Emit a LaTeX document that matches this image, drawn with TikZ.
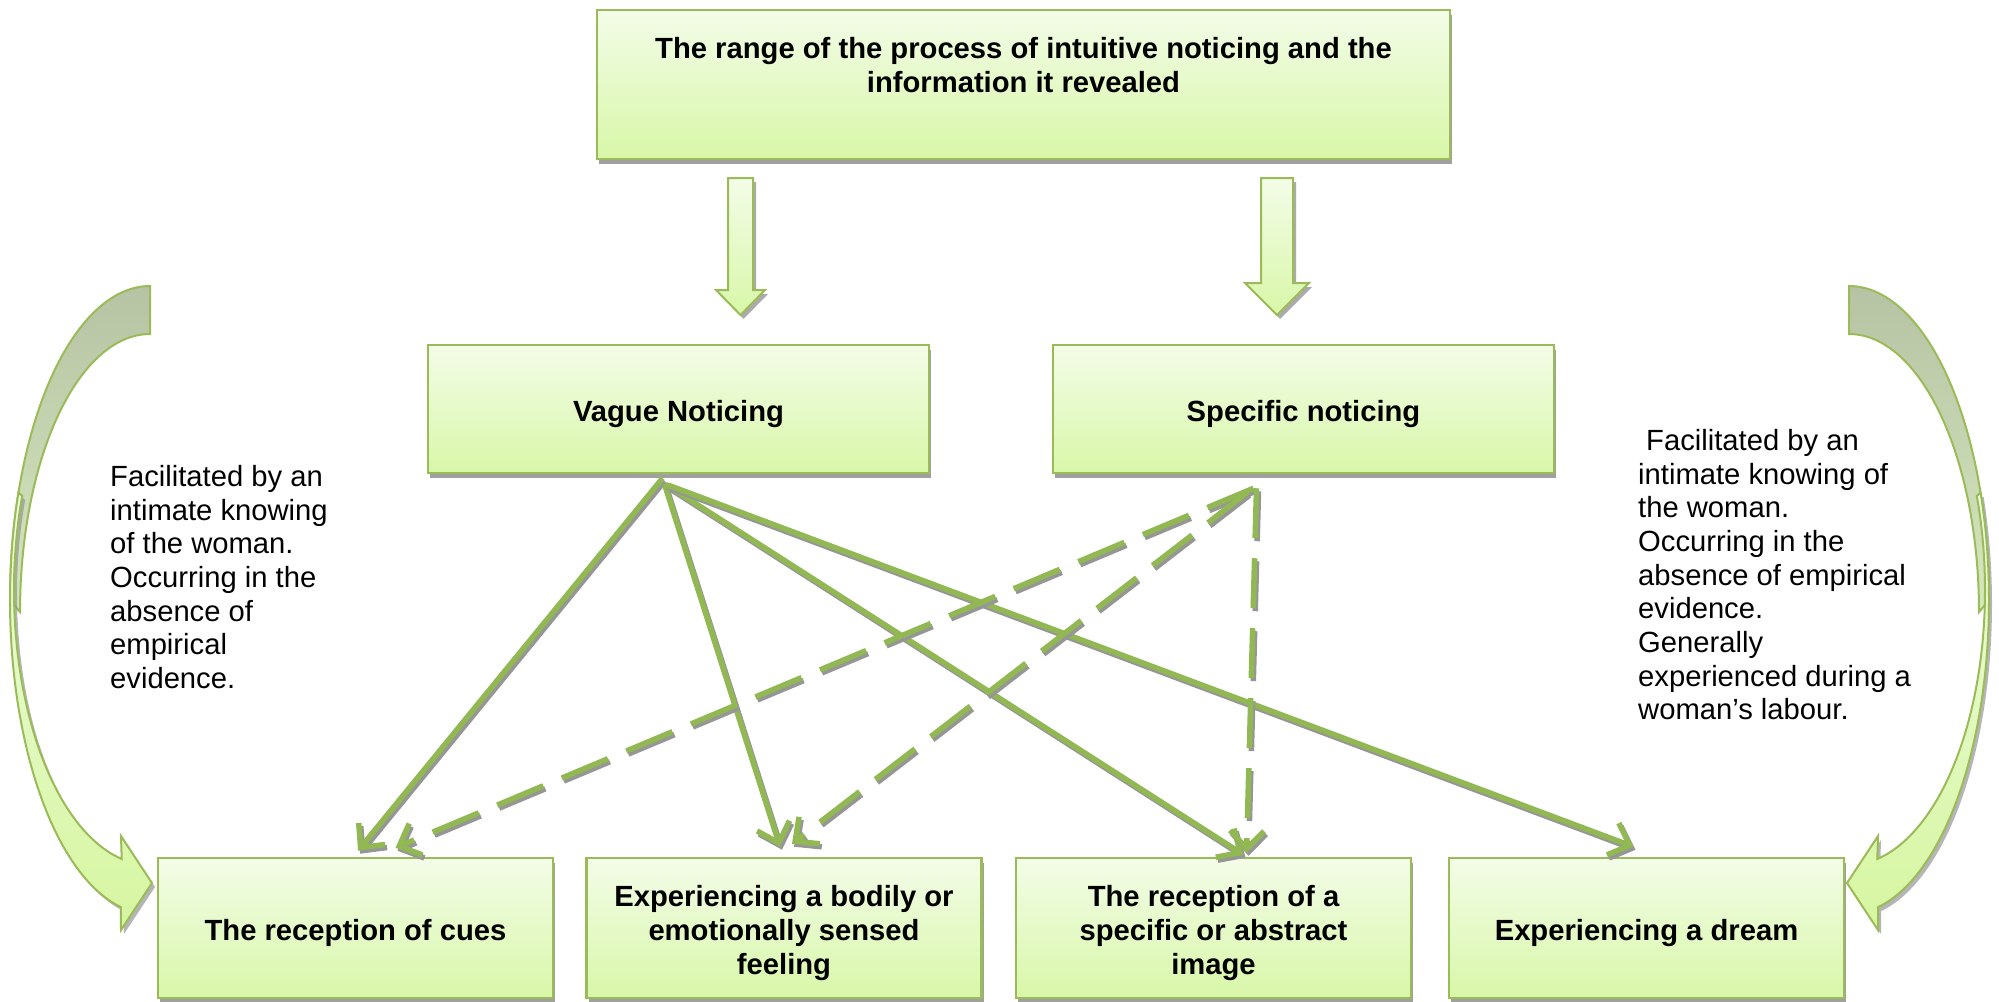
\documentclass[tikz,border=0pt]{standalone}
\usepackage{fontspec}
\setmainfont{Liberation Sans}
\usetikzlibrary{arrows.meta,shadows,calc}

\definecolor{boxtop}{RGB}{243,252,232}
\definecolor{boxbot}{RGB}{216,247,168}
\definecolor{edgeg}{RGB}{155,187,89}
\definecolor{lineg}{RGB}{146,184,84}
\definecolor{backtop}{RGB}{182,195,164}
\definecolor{backbot}{RGB}{214,232,190}
\definecolor{fronttop}{RGB}{238,251,224}
\definecolor{frontbot}{RGB}{214,246,160}
\definecolor{shadowgrey}{RGB}{150,150,150}

\newcommand\diagramsize{\fontsize{29.2pt}{33.7pt}\selectfont}
% a taller first line sets the text a little lower in its box
\newcommand\lowstrut{\rule{0pt}{31pt}}

\tikzset{
  greenbox/.style={draw=edgeg, line width=2.5pt, top color=boxtop, bottom color=boxbot,
    minimum width=395pt, minimum height=140pt, inner sep=0pt, align=center,
    font=\diagramsize\bfseries,
    drop shadow={shadow xshift=2pt, shadow yshift=-5pt, fill=shadowgrey, opacity=0.9}},
  sidetext/.style={align=left, inner sep=0pt, anchor=north west, font=\diagramsize},
  blockarrow/.style={draw=edgeg, line width=2pt, top color=boxtop, bottom color=boxbot,
    drop shadow={shadow xshift=3pt, shadow yshift=-4pt, fill=shadowgrey, opacity=0.8}},
  backpart/.style={draw=edgeg, line width=2pt, top color=backtop, bottom color=backbot},
  frontpart/.style={draw=edgeg, line width=2pt, top color=fronttop, bottom color=frontbot,
    drop shadow={shadow xshift=3pt, shadow yshift=-4pt, fill=shadowgrey, opacity=0.7}},
  barbtip/.style={-{Straight Barb[length=18pt, width=34pt]}},
  link/.style={draw=lineg, line width=5.5pt, barbtip,
    preaction={draw=shadowgrey, line width=5.5pt, barbtip,
      transform canvas={shift={(2pt,-3pt)}}}},
  dlink/.style={draw=lineg, line width=5.5pt, barbtip, dash pattern=on 50pt off 20pt,
    preaction={draw=shadowgrey, line width=5.5pt, barbtip, dash pattern=on 50pt off 20pt,
      transform canvas={shift={(2pt,-3pt)}}}},
}

% curved side arrow: darker back crescent and lighter front band with head
\newcommand\sidearrow{%
  \path[backpart]
    plot[domain=90:180, samples=60] ({150+140*cos(\x)}, {600-314*sin(\x)})
    -- plot[domain=180:90, samples=60] ({150+130*cos(\x)}, {612-278*sin(\x)})
    -- cycle;
  \path[frontpart]
    plot[domain=160:258, samples=60] ({150+136*cos(\x)}, {590-275*sin(\x)})
    -- (121,836) -- (152,883) -- (121,930)
    -- plot[domain=258:160, samples=60] ({150+140*cos(\x)}, {600-314*sin(\x)})
    -- cycle;
}

\begin{document}
\begin{tikzpicture}[x=1pt, y=-1pt]
\useasboundingbox (0,0) rectangle (1999,1001);

% side arrows
\sidearrow
\begin{scope}[xshift=1999pt, xscale=-1]
  \sidearrow
\end{scope}

% side notes
\node[sidetext] (lefttext) at (110,465)
  {Facilitated by an\\intimate knowing\\of the woman.\\Occurring in the\\absence of\\empirical\\evidence.};
\node[sidetext] (righttext) at (1638,429)
  {\hspace*{8pt}Facilitated by an\\intimate knowing of\\the woman.\\Occurring in the\\absence of empirical\\evidence.\\Generally\\experienced during a\\woman’s labour.};

% title box (an empty third line keeps the two text lines in its upper part)
\node[greenbox, minimum width=853pt, minimum height=149pt]
  (top) at (1023.5,84.5)
  {The range of the process of intuitive noticing and the\\information it revealed\\[6pt]\mbox{}};

% block arrows below the title box
\path[blockarrow] (728,178) -- (753,178) -- (753,290) -- (765,290) -- (740.5,315)
  -- (716,290) -- (728,290) -- cycle;
\path[blockarrow] (1261,178) -- (1293,178) -- (1293,283) -- (1309,283) -- (1277,315)
  -- (1245,283) -- (1261,283) -- cycle;

% two kinds of noticing
\node[greenbox, minimum width=501pt, minimum height=128pt] (vague) at (678.5,409) {\lowstrut Vague Noticing};
\node[greenbox, minimum width=501pt, minimum height=128pt] (specific) at (1303.5,409) {\lowstrut Specific noticing};

% outcomes
\node[greenbox] (cues) at (355.5,928) {\lowstrut The reception of cues};
\node[greenbox] (feeling) at (784,928) {\lowstrut Experiencing a bodily or\\emotionally sensed\\feeling};
\node[greenbox] (image) at (1213.5,928) {\lowstrut The reception of a\\specific or abstract\\image};
\node[greenbox] (dream) at (1646.5,928) {\lowstrut Experiencing a dream};

% vague noticing links
\draw[link] ([shift={(-16,4)}]vague.south) -- ([shift={(2.5,-6)}]cues.north);
\draw[link] ([shift={(-14,10)}]vague.south) -- ([shift={(-4,-10)}]feeling.north);
\draw[link] ([shift={(-13,10)}]vague.south) -- ([shift={(30,-2)}]image.north);
\draw[link] ([shift={(-10,11)}]vague.south) -- ([shift={(-13,-10)}]dream.north);

% specific noticing links
\draw[dlink] ([shift={(-50,14)}]specific.south) -- ([shift={(40,-9)}]cues.north);
\draw[dlink] ([shift={(-56,18)}]specific.south) -- ([shift={(8,-13)}]feeling.north);
\draw[dlink] ([shift={(-47,14)}]specific.south) -- ([shift={(33,-4)}]image.north);
\end{tikzpicture}
\end{document}
